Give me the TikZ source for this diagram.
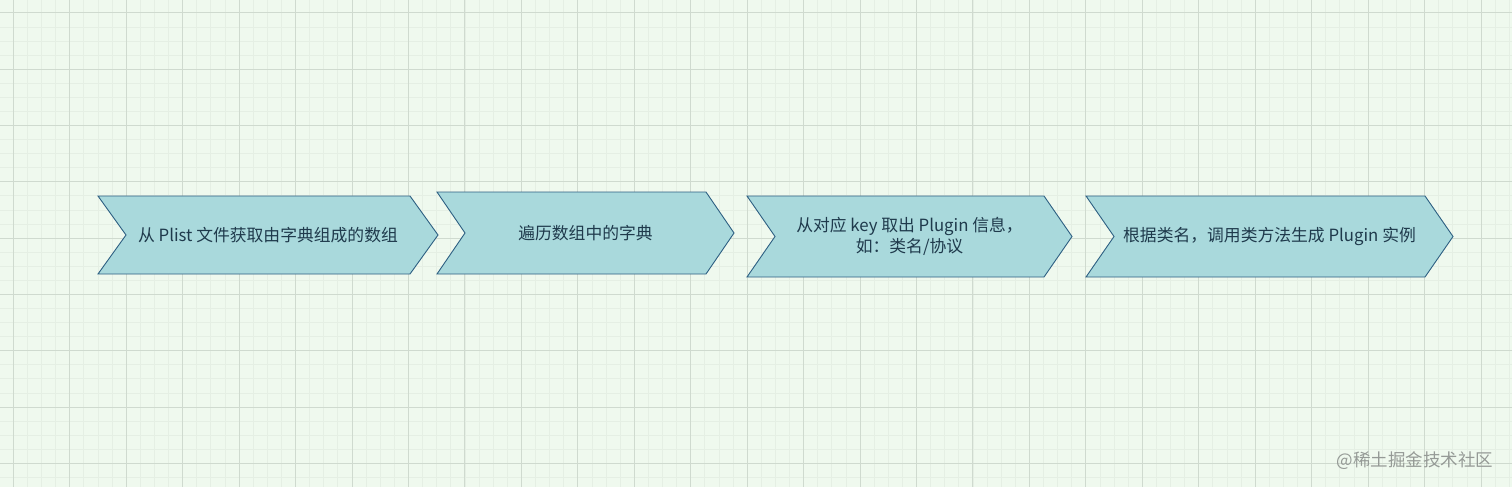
\documentclass[tikz,border=0pt]{standalone}
\usepackage{fontspec}
\newfontfamily\cjk{Noto Sans CJK SC}
\usepackage{tikz}
\usetikzlibrary{positioning, calc}

\definecolor{paper}{HTML}{EFF9EE}
\definecolor{gridminor}{HTML}{E5EFE4}
\definecolor{gridmajor}{HTML}{CFDACF}
\definecolor{chevfill}{HTML}{A9D9DC}
\definecolor{chevline}{HTML}{2D5F82}
\definecolor{chevink}{HTML}{1F3A4C}
\definecolor{markink}{HTML}{959A96}

\begin{document}
\begin{tikzpicture}[
    x=1pt, y=-1pt,
    chev/.style={fill=chevfill, draw=chevline, line width=0.9pt, line join=miter},
    chevtext/.style={font=\cjk\fontsize{16.8}{20.5}\selectfont, text=chevink, align=center, inner sep=0pt},
    wmark/.style={font=\cjk\fontsize{17.5}{20}\selectfont, text=markink, inner sep=0pt}
]

% ==========================================
% 1. Paper and grid
% ==========================================
\useasboundingbox (0,0) rectangle (1512,487);
\fill[paper] (0,0) rectangle (1512,487);

% minor lines
\foreach \k in {0,...,106} {
    \draw[gridminor, line width=0.6pt] ({13.2+\k*14.1125}, 0) -- ++(0, 487);
}
\foreach \k in {0,...,33} {
    \draw[gridminor, line width=0.6pt] (0, {12.8+\k*14.075}) -- ++(1512, 0);
}

% major lines
\foreach \k in {0,...,26} {
    \draw[gridmajor, line width=0.8pt] ({13.2+\k*56.45}, 0) -- ++(0, 487);
}
\foreach \k in {0,...,8} {
    \draw[gridmajor, line width=0.8pt] (0, {12.8+\k*56.3}) -- ++(1512, 0);
}

% ==========================================
% 2. Chevron steps
% ==========================================
\foreach \n/\xl/\yt/\xr/\yb/\txt in {
    1/98/196/410/274/{从 Plist 文件获取由字典组成的数组},
    2/437/192/706/274/{遍历数组中的字典},
    3/747/196/1044/277/{从对应 key 取出 Plugin 信息，\\ 如：类名/协议},
    4/1086/196/1425/277/{根据类名，调用类方法生成 Plugin 实例}} {
    \draw[chev] (\xl,\yt) -- (\xr,\yt) -- ({\xr+28},{(\yt+\yb)/2})
        -- (\xr,\yb) -- (\xl,\yb) -- ({\xl+28},{(\yt+\yb)/2}) -- cycle;
    \node[chevtext] (chev\n) at ({(\xl+\xr+28)/2},{(\yt+\yb)/2}) {\txt};
}

% ==========================================
% 3. Watermark
% ==========================================
\node[wmark] (mark) at (1415, 461) {@稀土掘金技术社区};

\end{tikzpicture}
\end{document}
